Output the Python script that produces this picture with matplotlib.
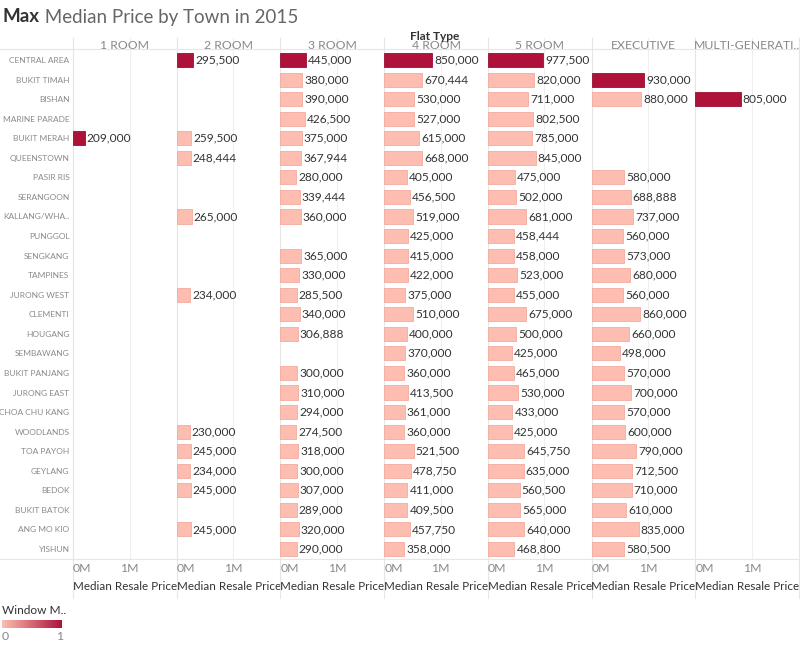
import numpy as np
import matplotlib.pyplot as plt
from matplotlib.colors import LinearSegmentedColormap

plt.rcParams['font.family'] = ['Lato', 'DejaVu Sans']

OUTFILE = "out.png"

TOWNS = ['CENTRAL AREA', 'BUKIT TIMAH', 'BISHAN', 'MARINE PARADE', 'BUKIT MERAH',
         'QUEENSTOWN', 'PASIR RIS', 'SERANGOON', 'KALLANG/WHA..', 'PUNGGOL',
         'SENGKANG', 'TAMPINES', 'JURONG WEST', 'CLEMENTI', 'HOUGANG', 'SEMBAWANG',
         'BUKIT PANJANG', 'JURONG EAST', 'CHOA CHU KANG', 'WOODLANDS', 'TOA PAYOH',
         'GEYLANG', 'BEDOK', 'BUKIT BATOK', 'ANG MO KIO', 'YISHUN']
FLAT_TYPES = ['1 ROOM', '2 ROOM', '3 ROOM', '4 ROOM', '5 ROOM', 'EXECUTIVE',
              'MULTI-GENERATI..']

N = None
room1 = [N, N, N, N, 209000, N, N, N, N, N, N, N, N, N, N, N, N, N, N, N, N, N, N, N, N, N]
room2 = [295500, N, N, N, 259500, 248444, N, N, 265000, N, N, N, 234000, N, N, N, N, N, N,
         230000, 245000, 234000, 245000, N, 245000, N]
room3 = [445000, 380000, 390000, 426500, 375000, 367944, 280000, 339444, 360000, N,
         365000, 330000, 285500, 340000, 306888, N, 300000, 310000, 294000, 274500,
         318000, 300000, 307000, 289000, 320000, 290000]
room4 = [850000, 670444, 530000, 527000, 615000, 668000, 405000, 456500, 519000, 425000,
         415000, 422000, 375000, 510000, 400000, 370000, 360000, 413500, 361000, 360000,
         521500, 478750, 411000, 409500, 457750, 358000]
room5 = [977500, 820000, 711000, 802500, 785000, 845000, 475000, 502000, 681000, 458444,
         458000, 523000, 455000, 675000, 500000, 425000, 465000, 530000, 433000, 425000,
         645750, 635000, 560500, 565000, 640000, 468800]
executive = [N, 930000, 880000, N, N, N, 580000, 688888, 737000, 560000, 573000, 680000,
             560000, 860000, 660000, 498000, 570000, 700000, 570000, 600000, 790000,
             712500, 710000, 610000, 835000, 580500]
multigen = [N, N, 805000, N, N, N, N, N, N, N, N, N, N, N, N, N, N, N, N, N, N, N, N, N, N, N]
COLUMNS = [room1, room2, room3, room4, room5, executive, multigen]

LIGHT = '#FDBDB0'
DARK = '#AE123A'
GRID = '#E6E6E6'
CMAP = LinearSegmentedColormap.from_list('win', [LIGHT, DARK])

W, H = 800, 645
fig = plt.figure(figsize=(W / 100, H / 100), dpi=100)

left_px, right_px = 73, 799
top_px, bot_px = 50.2, 558.8
head_px = 38
foot_px = 598
pw = (right_px - left_px) / len(FLAT_TYPES)
ah = bot_px - top_px
y = np.arange(len(TOWNS))

for k, (name, col) in enumerate(zip(FLAT_TYPES, COLUMNS)):
    ax = fig.add_axes([(left_px + k * pw) / W, 1 - bot_px / H, pw / W, ah / H])
    vals = np.array([np.nan if v is None else v for v in col], dtype=float)
    vmax = np.nanmax(vals)
    flag = (vals == vmax).astype(float)
    mask = ~np.isnan(vals)
    colors = [CMAP(f) for f in flag[mask]]
    edges = ['#9A0F33' if f else '#F4ABA0' for f in flag[mask]]
    ax.barh(y[mask], vals[mask], height=0.72, color=colors, edgecolor=edges, lw=0.6,
            zorder=3)
    for yi, v in zip(y[mask], vals[mask]):
        ax.annotate(f'{v:,.0f}', (v, yi), xytext=(1.5, 0), textcoords='offset points',
                    va='center', ha='left', fontsize=8.6, color='#333333', zorder=4)
    ax.set_xlim(0, 1.835e6)
    ax.set_ylim(len(TOWNS) - 0.5, -0.5)
    for s in ax.spines.values():
        s.set_visible(False)
    ax.set_xticks([0, 1e6], ['0M', '1M'])
    ax.tick_params(axis='x', length=0, pad=3, labelsize=8.8, labelcolor='#888888')
    ax.get_xticklabels()[0].set_ha('left')
    ax.set_xlabel('Median Resale Price', fontsize=8.4, color='#333333', labelpad=5)
    ax.set_yticks([])
    if k == 0:
        ax.set_yticks(y, TOWNS)
        ax.tick_params(axis='y', length=0, pad=2.5, labelsize=6.0, labelcolor='#8A8A8A')
    # gridline at 1M and panel separators, stretched into header/footer
    hdr = (top_px - head_px) / ah
    ftr = (foot_px - bot_px) / ah
    ax.axvline(1e6, ymin=0, ymax=1 + hdr, color='#EFEFEF', lw=0.8, clip_on=False, zorder=1)
    ax.axvline(0, ymin=-ftr, ymax=1 + hdr, color=GRID, lw=0.8, clip_on=False, zorder=1)
    if k == len(FLAT_TYPES) - 1:
        ax.axvline(1.835e6, ymin=-ftr, ymax=1 + hdr, color=GRID, lw=0.8, clip_on=False)
    ax.text(0.5, 1 + 4.5 / ah, name, transform=ax.transAxes, ha='center', va='center',
            fontsize=8.8, color='#888888')

# horizontal rules under header and above axis
for ypx in (top_px - 1, bot_px):
    fig.add_artist(plt.Line2D([0, 1], [1 - ypx / H] * 2, color=GRID, lw=0.8))

fig.text(435 / W, 1 - 36 / H, 'Flat Type', ha='center', va='center', fontsize=8.6,
         color='#333333', fontweight='bold')

t1 = fig.text(3 / W, 1 - 17 / H, 'Max', ha='left', va='center', fontsize=13.5,
              color='#333333', fontweight='bold')
fig.axes[0].annotate(' Median Price by Town in 2015', xy=(1, 0.5), xycoords=t1,
                     va='center', ha='left', fontsize=13.5, color='#666666')

# legend
fig.text(2 / W, 1 - 611 / H, 'Window M..', ha='left', va='center', fontsize=8.6,
         color='#333333')
cax = fig.add_axes([2 / W, 1 - 628 / H, 60 / W, 8 / H])
cax.imshow(np.linspace(0, 1, 256)[None, :], aspect='auto', cmap=CMAP)
cax.set_axis_off()
fig.text(5 / W, 1 - 637 / H, '0', ha='center', va='center', fontsize=8.8, color='#888888')
fig.text(60 / W, 1 - 637 / H, '1', ha='center', va='center', fontsize=8.8, color='#888888')

fig.savefig(OUTFILE, dpi=100)
